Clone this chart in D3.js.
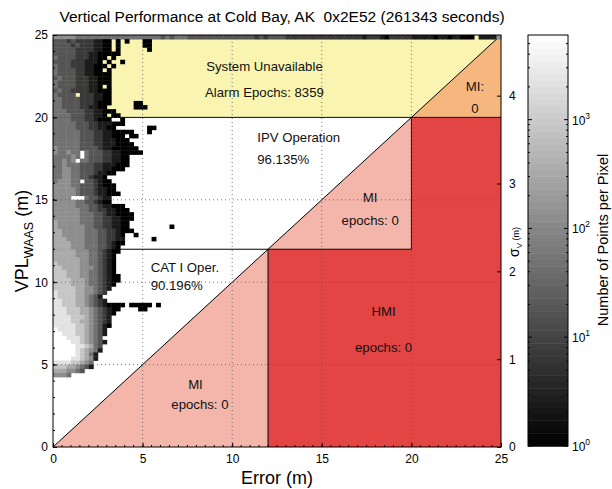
<!DOCTYPE html>
<html lang="en">
<head>
<meta charset="utf-8">
<title>Vertical Performance at Cold Bay</title>
<script src="https://d3js.org/d3.v7.min.js"></script>
<style>
  body { margin: 0; background: #fff; }
  svg { font-family: "Liberation Sans", Arial, sans-serif; }
</style>
</head>
<body>
<svg id="chart" width="612" height="489"></svg>
<script>
// ---- data ----
var xTicks = [0, 5, 10, 15, 20, 25];
var yTicks = [0, 5, 10, 15, 20, 25];
var sigmaTicks = [0, 1, 2, 3, 4];
var cbarTicks = [1, 10, 100, 1000];
var cbarMax = 6000;     // top of colour bar
var binSize = 0.25;     // metres per heatmap pixel

// density grid, top row = VPL 24.75..25, one char per 0.25 m error bin
// digit = grey level 0 (1 point) .. 9 (max), '.' = empty
var topRow =
  "55555444444444444444" + "44443434443333333333" + "33333232333322222222" +
  "22222222212221022222" + "11111011011000.11115";
var densityRows = [
  topRow,
  "3332322221100.0.0...00",
  "3333232221100.0.....00",
  "3333322221100.0......0",
  "333332221100000",
  "433332221100.0",
  "33332221110.0..0",
  "433322211000.0",
  "43333221100.0",
  "4333322110000",
  "3433322211000",
  "4333322211000",
  "43333222110.0",
  "3433222211000",
  "43333.2221100",
  "4433332221100",
  "4433332221000.....00",
  "443333221100......000",
  "44433332211000",
  "444433322110.00",
  "4444333221000..0",
  "4444433322111000",
  "44444333221100.......00",
  "444444333221100000...0",
  "4444443332211000.00",
  "44444433322111000",
  "444444333221110000",
  "5444443333211000000",
  "544544.4333221100000",
  "444454.4333221100",
  "44545.44333221100",
  "44544433322111000",
  "4455443332211000",
  "44554433321100",
  "445544332110",
  "455544.332100",
  "55554433321000",
  "55555433321100",
  "555554333211000",
  "5555...433211",
  "5555544332100",
  "5555544433211000",
  "55555544332211000",
  "555555444332110000",
  "555555444332211000",
  "65555544433221100",
  "65555554433221100.........0",
  "665555544433221000",
  "6655555444332210..0",
  "6665555444332211......0",
  "6666555444332100",
  "666655544433210",
  "666665554432100",
  "66666555443210",
  "66666655443210",
  "76666655443210",
  "77666655543210",
  "77766655443210",
  "777666554432100",
  "777766654432100",
  "77776665443210",
  "7777766554321",
  "877776655432",
  "87777665431",
  "887776654321",
  "887776654321" + "0000.00000.0",
  "888777665432100....00",
  "88877766543210",
  "8888777654321",
  "8888776654321",
  "8888877654310",
  "988887765431",
  "998887765431",
  "99988876543",
  "999988765431",
  "99999887643",
  "99999876541",
  "9999987641",
  "9999887651",
  "888877654",
  "777665431",
  "6665543",
  "5554"
];

var regionText = [
  { t: "System Unavailable", x: 11.8, y: 22.8, a: "middle" },
  { t: "Alarm Epochs: 8359", x: 11.8, y: 21.25, a: "middle" },
  { t: "MI:", x: 23.55, y: 21.6, a: "middle" },
  { t: "0", x: 23.55, y: 20.25, a: "middle" },
  { t: "IPV Operation", x: 11.4, y: 18.5, a: "start" },
  { t: "96.135%", x: 11.4, y: 17.15, a: "start" },
  { t: "MI", x: 17.7, y: 14.85, a: "middle" },
  { t: "epochs: 0", x: 17.7, y: 13.45, a: "middle" },
  { t: "CAT I Oper.", x: 5.45, y: 10.6, a: "start" },
  { t: "90.196%", x: 5.45, y: 9.55, a: "start" },
  { t: "HMI", x: 18.45, y: 7.95, a: "middle" },
  { t: "epochs: 0", x: 18.45, y: 5.75, a: "middle" },
  { t: "MI", x: 7.95, y: 3.5, a: "middle" },
  { t: "epochs: 0", x: 8.2, y: 2.3, a: "middle" }
];

// ---- layout ----
var svg = d3.select("#chart");
var x = d3.scaleLinear().domain([0, 25]).range([53, 501]);
var y = d3.scaleLinear().domain([0, 25]).range([447, 35]);
var ySig = d3.scaleLinear().domain([0, 25 / 5.33]).range([447, 35]);
var cb = d3.scaleLog().domain([1, cbarMax]).range([446, 35]);
var grey = d3.scaleLog().domain([1, cbarMax]).range(["#000", "#fff"]).clamp(true);
function levelCount(ch) { return Math.pow(cbarMax, +ch / 9); }

var plot = svg.append("g");
function poly(pts, fill) {
  plot.append("path")
    .attr("d", d3.line().x(function (d) { return x(d[0]); }).y(function (d) { return y(d[1]); })(pts) + "Z")
    .attr("fill", fill);
}
poly([[0, 20], [20, 20], [25, 25], [0, 25]], "#f9f5b0");
poly([[20, 20], [25, 25], [25, 20]], "#f5b77e");
poly([[12, 0], [25, 0], [25, 20], [20, 20], [20, 12], [12, 12]], "#e24543");
poly([[0, 0], [12, 12], [12, 0]], "#f4b6aa");
poly([[12, 12], [20, 20], [20, 12]], "#f4b6aa");

var segs = [[[0, 20], [25, 20]], [[0, 12], [20, 12]], [[12, 0], [12, 12]], [[20, 12], [20, 20]], [[0, 0], [25, 25]]];
plot.selectAll(".seg").data(segs).enter().append("line")
  .attr("x1", function (d) { return x(d[0][0]); }).attr("y1", function (d) { return y(d[0][1]); })
  .attr("x2", function (d) { return x(d[1][0]); }).attr("y2", function (d) { return y(d[1][1]); })
  .attr("stroke", "#000").attr("stroke-width", 1);

// heatmap
var cells = [];
densityRows.forEach(function (row, r) {
  for (var c = 0; c < row.length; c++) {
    if (row[c] !== ".") cells.push({ c: c, r: r, n: levelCount(row[c]) });
  }
});
var cw = x(binSize) - x(0), ch = y(0) - y(binSize);
plot.selectAll(".cell").data(cells).enter().append("rect")
  .attr("x", function (d) { return x(d.c * binSize); })
  .attr("y", function (d) { return y(25 - d.r * binSize); })
  .attr("width", cw + 0.4).attr("height", ch + 0.4)
  .attr("fill", function (d) { return grey(d.n); });

// dotted grid
var gridV = [5, 10, 15, 20];
plot.selectAll(".gv").data(gridV).enter().append("line")
  .attr("x1", x).attr("x2", x).attr("y1", y(0)).attr("y2", y(25))
  .attr("stroke", "#555").attr("stroke-width", 0.8).attr("stroke-dasharray", "1,3");
plot.selectAll(".gh").data(gridV).enter().append("line")
  .attr("y1", y).attr("y2", y).attr("x1", x(0)).attr("x2", x(25))
  .attr("stroke", "#555").attr("stroke-width", 0.8).attr("stroke-dasharray", "1,3");

// region labels
plot.selectAll(".rt").data(regionText).enter().append("text")
  .attr("x", function (d) { return x(d.x); }).attr("y", function (d) { return y(d.y); })
  .attr("text-anchor", function (d) { return d.a; })
  .attr("font-size", 13.2).attr("fill", "#111")
  .text(function (d) { return d.t; });

// frame + axes
svg.append("rect").attr("x", 53).attr("y", 35).attr("width", 448).attr("height", 412)
  .attr("fill", "none").attr("stroke", "#000").attr("stroke-width", 1);

var bottom = svg.append("g").attr("transform", "translate(0,447)")
  .call(d3.axisBottom(x).tickValues(xTicks).tickSize(-4).tickPadding(7).tickFormat(d3.format("d")));
var left = svg.append("g").attr("transform", "translate(53,0)")
  .call(d3.axisLeft(y).tickValues(yTicks).tickSize(-4).tickPadding(5).tickFormat(d3.format("d")));
var right = svg.append("g").attr("transform", "translate(501,0)")
  .call(d3.axisRight(ySig).tickValues(sigmaTicks).tickSize(-4).tickPadding(8).tickFormat(d3.format("d")));
[bottom, left, right].forEach(function (g) {
  g.select(".domain").remove();
  g.selectAll("text").attr("font-size", 12).attr("fill", "#000").attr("font-family", null);
  g.selectAll("line").attr("stroke", "#000");
});
// minor ticks
svg.append("g").selectAll("line").data(d3.range(1, 25)).enter().append("line")
  .attr("x1", 53).attr("x2", 55).attr("y1", y).attr("y2", y).attr("stroke", "#000");
svg.append("g").selectAll("line").data(d3.range(0.5, 25, 0.5)).enter().append("line")
  .attr("y1", 447).attr("y2", 445).attr("x1", x).attr("x2", x).attr("stroke", "#000");

// titles
svg.append("text").attr("x", 282).attr("y", 22).attr("text-anchor", "middle")
  .attr("font-size", 15.5).text("Vertical Performance at Cold Bay, AK  0x2E52 (261343 seconds)")
  .style("white-space", "pre");
svg.append("text").attr("x", 277).attr("y", 484).attr("text-anchor", "middle")
  .attr("font-size", 18).text("Error (m)");
var yl = svg.append("text").attr("transform", "translate(28,241) rotate(-90)")
  .attr("text-anchor", "middle").attr("font-size", 18);
yl.append("tspan").text("VPL");
yl.append("tspan").attr("font-size", 12.5).attr("dy", 5).text("WAAS");
yl.append("tspan").attr("dy", -5).text(" (m)");
var sl = svg.append("text").attr("transform", "translate(519,242) rotate(-90)")
  .attr("text-anchor", "middle").attr("font-size", 11.5);
sl.append("tspan").attr("font-size", 14).text("σ");
sl.append("tspan").attr("font-size", 8).attr("dy", 3).text("V");
sl.append("tspan").attr("dy", -3).attr("font-size", 9).text(" (m)");

// colour bar
var cbar = svg.append("g");
var bands = d3.range(64);
var lmax = Math.log10(cbarMax);
cbar.selectAll("rect").data(bands).enter().append("rect")
  .attr("x", 528).attr("width", 40)
  .attr("y", function (i) { return cb(Math.pow(10, (i + 1) * lmax / 64)); })
  .attr("height", function (i) { return cb(Math.pow(10, i * lmax / 64)) - cb(Math.pow(10, (i + 1) * lmax / 64)) + 0.5; })
  .attr("fill", function (i) { return grey(Math.pow(10, (i + 0.5) * lmax / 64)); });
cbar.append("rect").attr("x", 528).attr("y", 35).attr("width", 40).attr("height", 411)
  .attr("fill", "none").attr("stroke", "#000");
var minor = [];
[1, 10, 100, 1000].forEach(function (dec) {
  for (var k = 2; k <= 9; k++) if (dec * k < cbarMax) minor.push(dec * k);
});
[[528, 1], [568, -1]].forEach(function (side) {
  cbar.append("g").selectAll("line").data(cbarTicks).enter().append("line")
    .attr("x1", side[0]).attr("x2", side[0] + side[1] * 4).attr("y1", cb).attr("y2", cb).attr("stroke", "#000");
  cbar.append("g").selectAll("line").data(minor).enter().append("line")
    .attr("x1", side[0]).attr("x2", side[0] + side[1] * 2).attr("y1", cb).attr("y2", cb).attr("stroke", "#000");
});
var cl = cbar.selectAll(".cl").data(cbarTicks).enter().append("text")
  .attr("x", 572).attr("y", function (d) { return cb(d) + 5; }).attr("font-size", 12);
cl.append("tspan").text("10");
cl.append("tspan").attr("font-size", 8.5).attr("dy", -6).text(function (d) { return Math.round(Math.log10(d)); });
svg.append("text").attr("transform", "translate(608,240) rotate(-90)")
  .attr("text-anchor", "middle").attr("font-size", 14.5).text("Number of Points per Pixel");
</script>
</body>
</html>
